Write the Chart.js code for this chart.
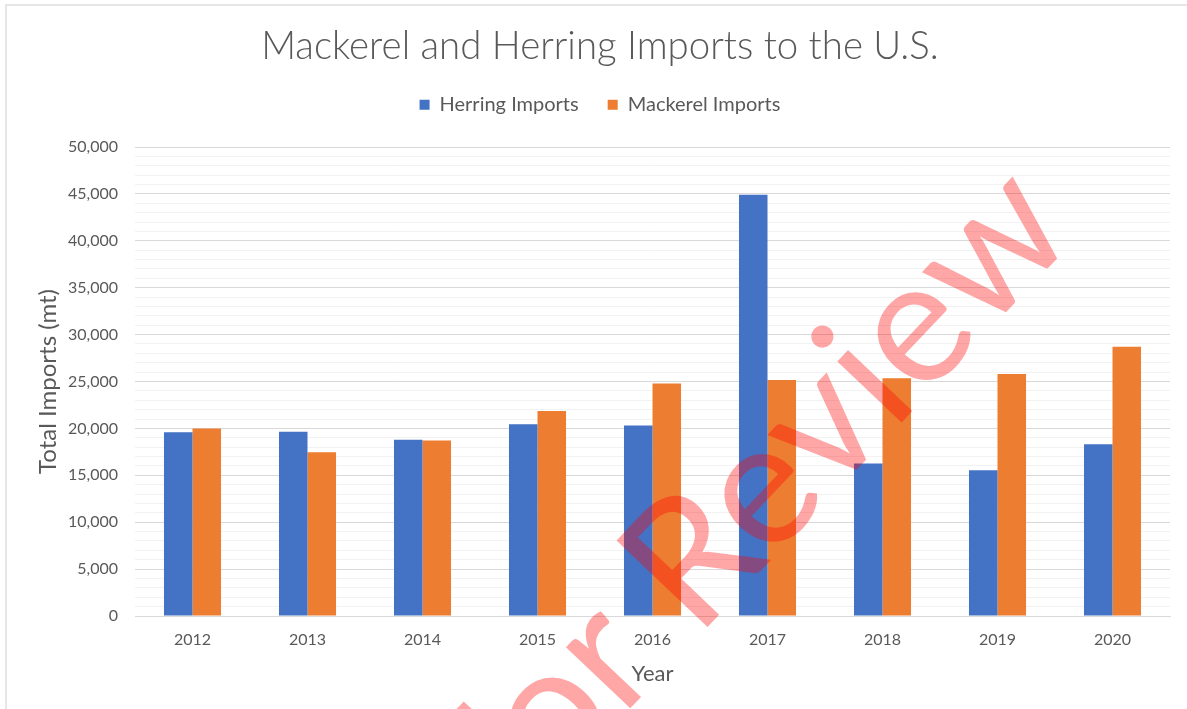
<!DOCTYPE html>
<html>
<head>
<meta charset="utf-8">
<script src="https://cdn.jsdelivr.net/npm/chart.js@4.4.1/dist/chart.umd.min.js"></script>
<style>
  html, body { margin: 0; padding: 0; width: 1187px; height: 709px; overflow: hidden; background: #ffffff; }
  #wrap { position: absolute; left: 0; top: 0; width: 1195px; height: 709px; }
</style>
</head>
<body>
<div id="wrap"><canvas id="c" width="1195" height="709"></canvas></div>
<script>
const chartTitle = 'Mackerel and Herring Imports to the U.S.';
const years = ['2012', '2013', '2014', '2015', '2016', '2017', '2018', '2019', '2020'];
const herringImports = [19600, 19650, 18800, 20450, 20300, 44900, 16250, 15550, 18300];
const mackerelImports = [20000, 17450, 18700, 21850, 24800, 25150, 25350, 25800, 28700];
const seriesNames = ['Herring Imports', 'Mackerel Imports'];
const seriesColors = ['#4472C4', '#ED7D31'];
const yAxisTitle = 'Total Imports (mt)';
const xAxisTitle = 'Year';
const watermarkText = 'For Review';
const yMin = 0, yMax = 50000, yMajorStep = 5000, yMinorStep = 1000;

const FONT = 'Lato, "Open Sans", sans-serif';
const TXT = '#595959';

const frame = {
  id: 'frame',
  beforeDraw(chart) {
    const ctx = chart.ctx;
    ctx.save();
    ctx.fillStyle = '#e6e6e6';
    ctx.fillRect(5, 4, chart.width - 5, 2);
    ctx.fillRect(5, 4, 2, chart.height - 4);
    ctx.restore();
  }
};

// watermark: the "R" of "Review" is pinned, the text turns around it
const watermark = {
  id: 'watermark',
  afterDraw(chart) {
    const ctx = chart.ctx;
    ctx.save();
    ctx.font = '170px ' + FONT;
    const pre0 = ctx.measureText('For ').width;
    const rx = 491 + Math.SQRT1_2 * pre0, ry = 844 - Math.SQRT1_2 * pre0;
    ctx.font = '175px ' + FONT;
    const pre1 = ctx.measureText('For ').width;
    ctx.translate(rx, ry);
    ctx.rotate(-46.5 * Math.PI / 180);
    ctx.fillStyle = 'rgba(255,0,0,0.35)';
    ctx.textBaseline = 'alphabetic';
    ctx.textAlign = 'left';
    ctx.fillText(watermarkText, -pre1, 0);
    ctx.restore();
  }
};

new Chart(document.getElementById('c'), {
  type: 'bar',
  data: {
    labels: years,
    datasets: [
      { label: seriesNames[0], data: herringImports, backgroundColor: seriesColors[0], borderWidth: 0, xAxisID: 'x', yAxisID: 'y' },
      { label: seriesNames[1], data: mackerelImports, backgroundColor: seriesColors[1], borderWidth: 0, xAxisID: 'x', yAxisID: 'y' }
    ]
  },
  options: {
    responsive: false,
    animation: false,
    devicePixelRatio: 1,
    layout: { padding: { left: 5, right: 0, top: 0, bottom: 0 } },
    datasets: { bar: { categoryPercentage: 0.496, barPercentage: 1.0 } },
    plugins: {
      title: {
        display: true, text: chartTitle, color: TXT,
        font: { family: FONT, size: 38.4, weight: '300', lineHeight: 1.0 },
        padding: { top: 27.3, bottom: 0 }
      },
      legend: {
        display: true, position: 'top',
        labels: { color: TXT, font: { family: FONT, size: 20 }, boxWidth: 10, boxHeight: 10, padding: 29 }
      },
      tooltip: { enabled: false }
    },
    scales: {
      x: {
        grid: { display: false, drawTicks: false },
        border: { display: true, color: '#d9d9d9', width: 1 },
        ticks: { color: TXT, font: { family: FONT, size: 16 }, padding: 14, maxRotation: 0 },
        title: { display: true, text: xAxisTitle, color: TXT, font: { family: FONT, size: 22 }, padding: { top: 0, bottom: 22 } },
        afterFit(s) { s.height = 93; }
      },
      xPad: {
        type: 'linear', axis: 'x', position: 'top', display: true,
        grid: { display: false, drawTicks: false }, border: { display: false },
        ticks: { display: false },
        afterFit(s) { s.height = 22.3; }
      },
      y: {
        min: yMin, max: yMax,
        grid: {
          drawTicks: false,
          color: (c) => (c.tick && c.tick.value % yMajorStep === 0) ? '#d9d9d9' : '#f2f2f2',
          lineWidth: 1
        },
        border: { display: false },
        ticks: {
          stepSize: yMinorStep, autoSkip: false, color: TXT, padding: 17,
          font: { family: FONT, size: 16 },
          callback: (v) => (v % yMajorStep === 0) ? v.toLocaleString('en-US') : ''
        },
        title: { display: true, text: yAxisTitle, color: TXT, font: { family: FONT, size: 24 }, padding: { top: 29, bottom: 0 } },
        afterFit(s) { s.width = 130; }
      },
      yPad: {
        type: 'linear', axis: 'y', position: 'right', display: true,
        grid: { display: false, drawTicks: false }, border: { display: false },
        ticks: { display: false },
        afterFit(s) { s.width = 25; }
      }
    }
  },
  plugins: [frame, watermark]
});
</script>
</body>
</html>
